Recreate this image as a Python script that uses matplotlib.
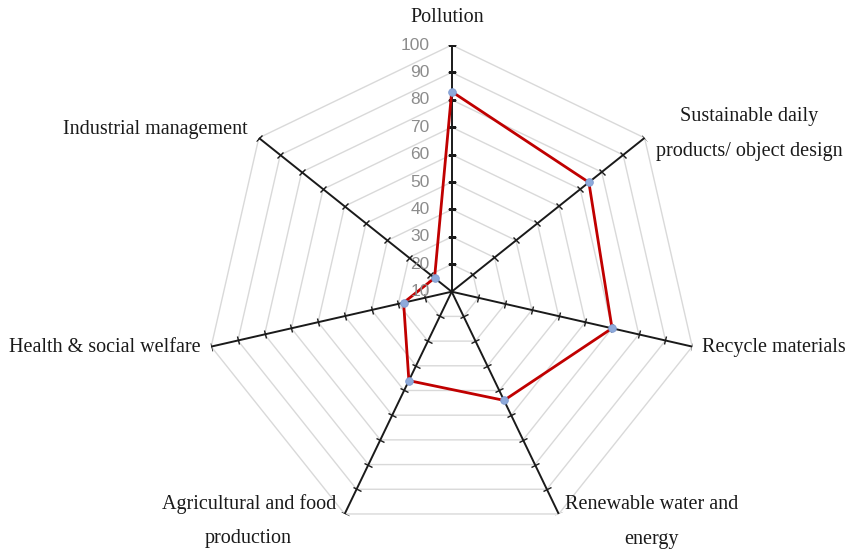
import numpy as np
import matplotlib
matplotlib.use("Agg")
import matplotlib.pyplot as plt
from matplotlib.markers import MarkerStyle

# 数据
categories = ["Pollution", "Sustainable daily\nproducts/ object design", "Recycle materials",
              "Renewable water and\nenergy", "Agricultural and food\nproduction",
              "Health & social welfare", "Industrial management"]
values = [83, 74, 70, 54, 46, 28, 18]
levels = [10, 20, 30, 40, 50, 60, 70, 80, 90, 100]

# 标签偏移 (pixels) 和对齐
LABEL_OFFSETS = [(-4, 28), (105, 4), (10, -1), (93, -8), (-96, -7), (-11, -1), (-11, 8)]
LABEL_HA = ["center", "center", "left", "center", "center", "right", "right"]

n = len(categories)
angles = np.arange(n) * 2 * np.pi / n
closed = np.append(angles, angles[0])

fig = plt.figure(figsize=(8.51, 5.59), dpi=100)
cx, cy, R = 451.7 / 851, 1 - 291.7 / 559, 246.7
ax = fig.add_axes([cx - R / 851, cy - R / 559, 2 * R / 851, 2 * R / 559], projection="polar")
ax.set_theta_zero_location("N")
ax.set_theta_direction(-1)
ax.set_axis_off()
ax.set_rlim(10, 100)

# 网格多边形
for lv in levels[1:]:
    ax.plot(closed, [lv] * (n + 1), color="#d9d9d9", lw=1, zorder=1)

# 轴线和刻度
for i, a in enumerate(angles):
    ax.plot([a, a], [10, 100], color="#1a1a1a", lw=1.4, zorder=2)
    rot = 90 - np.degrees(a)
    tick = MarkerStyle("_").rotated(deg=rot - 90)
    ax.plot([a] * len(levels[1:]), levels[1:], ls="none", marker=tick,
            ms=6, mew=1, color="#1a1a1a", zorder=2)

# 数据线
ax.plot(closed, values + values[:1], color="#c00000", lw=2, zorder=3)
ax.plot(angles, values, ls="none", marker="o", ms=5.5, mfc="#8eaadb",
        mec="#7f9bd0", mew=0.6, zorder=4)

# 刻度标签
for lv in levels:
    ax.annotate(str(lv), xy=(0, lv), xytext=(-22, 0), textcoords="offset pixels",
                ha="right", va="center", fontsize=12.5, color="#8c8c8c",
                family="Liberation Sans", zorder=5)

# 类别标签
for i, (lab, a) in enumerate(zip(categories, angles)):
    ox, oy = LABEL_OFFSETS[i]
    ax.annotate(lab, xy=(a, 100), xytext=(ox, oy), textcoords="offset pixels",
                ha=LABEL_HA[i], va="center", fontsize=14.5, color="#1a1a1a",
                family="Liberation Serif", linespacing=2.1, annotation_clip=False)

fig.savefig("out.png", dpi=100, facecolor="white")
